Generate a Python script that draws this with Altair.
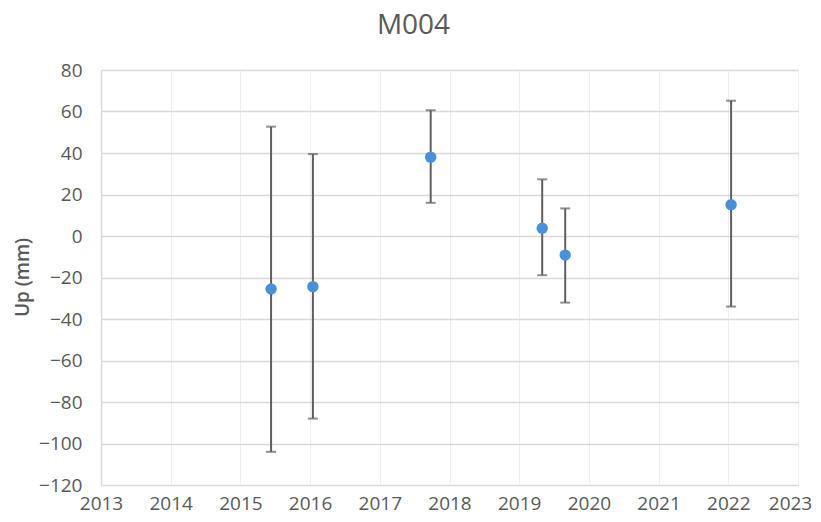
import altair as alt
import pandas as pd

years = [2015.44, 2016.04, 2017.73, 2019.33, 2019.66, 2022.04]
up_mm = [-25.5, -24.4, 38.0, 3.7, -9.2, 15.1]
err_high = [52.7, 39.5, 60.6, 27.3, 13.3, 65.2]
err_low = [-104.0, -88.0, 16.0, -18.9, -32.1, -34.0]
x_ticks = list(range(2013, 2024))
y_ticks = list(range(-120, 81, 20))

df = pd.DataFrame({"year": years, "up": up_mm, "hi": err_high, "lo": err_low})

FONT = "Open Sans"
LABEL = "#595959"

x_enc = alt.X("year:Q", scale=alt.Scale(domain=[2013, 2023], nice=False, zero=False),
              axis=alt.Axis(values=x_ticks, format="d", title=None, grid=True,
                            gridColor="#eeeeee", gridWidth=1, domain=False, ticks=False,
                            labelFont=FONT, labelFontSize=19, labelColor=LABEL,
                            labelPadding=24, labelBaseline="alphabetic", labelFlush=False,
                            labelOffset={"expr": "datum.value == 2023 ? -8 : 0"}))
y_scale = alt.Scale(domain=[-120, 80], nice=False, zero=False)
y_axis = alt.Axis(values=y_ticks, title="Up (mm)", grid=True, gridColor="#d9d9d9",
                  gridWidth=1.5, domain=True, domainColor="#d9d9d9", domainWidth=1.5,
                  ticks=False, labelFont=FONT, labelFontSize=19, labelColor=LABEL,
                  labelPadding=19, titleFont=FONT, titleFontSize=19, titleFontWeight=600,
                  titleColor=LABEL, titleX=-79, titleY=207, titleAngle=270,
                  titleAlign="center", titleBaseline="middle")

base = alt.Chart(df)

rules = base.mark_rule(color="#5f5f5f", strokeWidth=2).encode(
    x=x_enc,
    y=alt.Y("lo:Q", scale=y_scale, axis=y_axis),
    y2="hi:Q",
)
cap_hi = base.mark_tick(color="#5f5f5f", thickness=2, size=10, orient="horizontal").encode(
    x="year:Q", y=alt.Y("hi:Q", scale=y_scale))
cap_lo = base.mark_tick(color="#5f5f5f", thickness=2, size=10, orient="horizontal").encode(
    x="year:Q", y=alt.Y("lo:Q", scale=y_scale))
points = base.mark_circle(color="#4a90d9", opacity=1, size=130).encode(
    x="year:Q", y=alt.Y("up:Q", scale=y_scale))

chart = alt.layer(rules, cap_hi, cap_lo, points).properties(
    width=697, height=415,
    autosize=alt.AutoSizeParams(type="none"),
    padding={"left": 93, "top": 62, "right": 15, "bottom": 29},
    title=alt.TitleParams("M004", font=FONT, fontSize=28, fontWeight="normal",
                          color=LABEL, anchor="middle", dx=-36, offset=21),
).configure_view(stroke=None)

chart.save("out.html", embed_options={"renderer": "svg", "actions": False})
